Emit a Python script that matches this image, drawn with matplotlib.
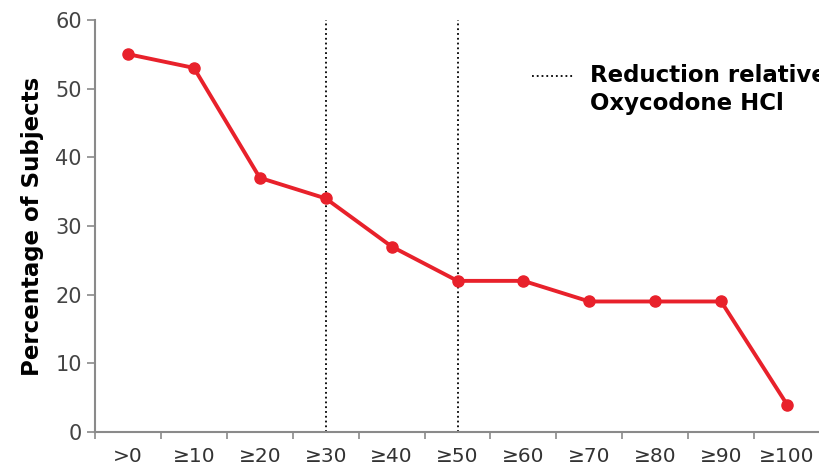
import numpy as np
import matplotlib.pyplot as plt
from matplotlib.lines import Line2D

# data
categories = ['>0', '≥10', '≥20', '≥30', '≥40', '≥50', '≥60', '≥70', '≥80', '≥90', '≥100']
pct_subjects = [55, 53, 37, 34, 27, 22, 22, 19, 19, 19, 4]
ref_lines = ['≥30', '≥50']

plt.rcParams['font.family'] = ['DejaVu Sans']
axis_grey = '#8a8a8a'

fig = plt.figure(figsize=(8.2, 4.76), dpi=100)
ax = fig.add_axes([0.1159, 0.0924, 0.8841, 0.866])

x = np.arange(len(categories))
ax.plot(x, pct_subjects, color='#e8212b', lw=2.8, marker='o', ms=8, zorder=3)

for c in ref_lines:
    ax.vlines(categories.index(c), 0, 60, colors='black', linestyles=':', lw=1.3, zorder=2)

ax.set_xlim(-0.5, 10.49)
ax.set_ylim(0, 60)
ax.set_yticks(range(0, 61, 10))
ax.set_xticks(x)
ax.set_xticklabels(categories, fontsize=14.5, color='#333333')
ax.set_xticks(np.arange(-0.5, 10.6, 1), minor=True)
ax.tick_params(axis='x', which='major', length=0, pad=11)
ax.tick_params(axis='x', which='minor', length=5, width=1.2, color=axis_grey)
ax.tick_params(axis='y', length=6, width=1.2, color=axis_grey, labelsize=15, labelcolor='#444444')

for s in ['top', 'right']:
    ax.spines[s].set_visible(False)
for s in ['left', 'bottom']:
    ax.spines[s].set_color(axis_grey)
    ax.spines[s].set_linewidth(1.5)

ax.set_ylabel('Percentage of Subjects', fontsize=16.5, fontweight='semibold', labelpad=8)

# legend-like annotation; like the original it runs past the right edge
fig.add_artist(Line2D([532/820, 573/820], [1 - 76/476, 1 - 76/476], color='black', ls=':', lw=1.3))
fig.text(590/820, 1 - 64/476, 'Reduction relative to\nOxycodone HCl', fontsize=16.5, fontweight='bold',
         va='top', ha='left', linespacing=1.3)

fig.savefig('out.png', dpi=100)
